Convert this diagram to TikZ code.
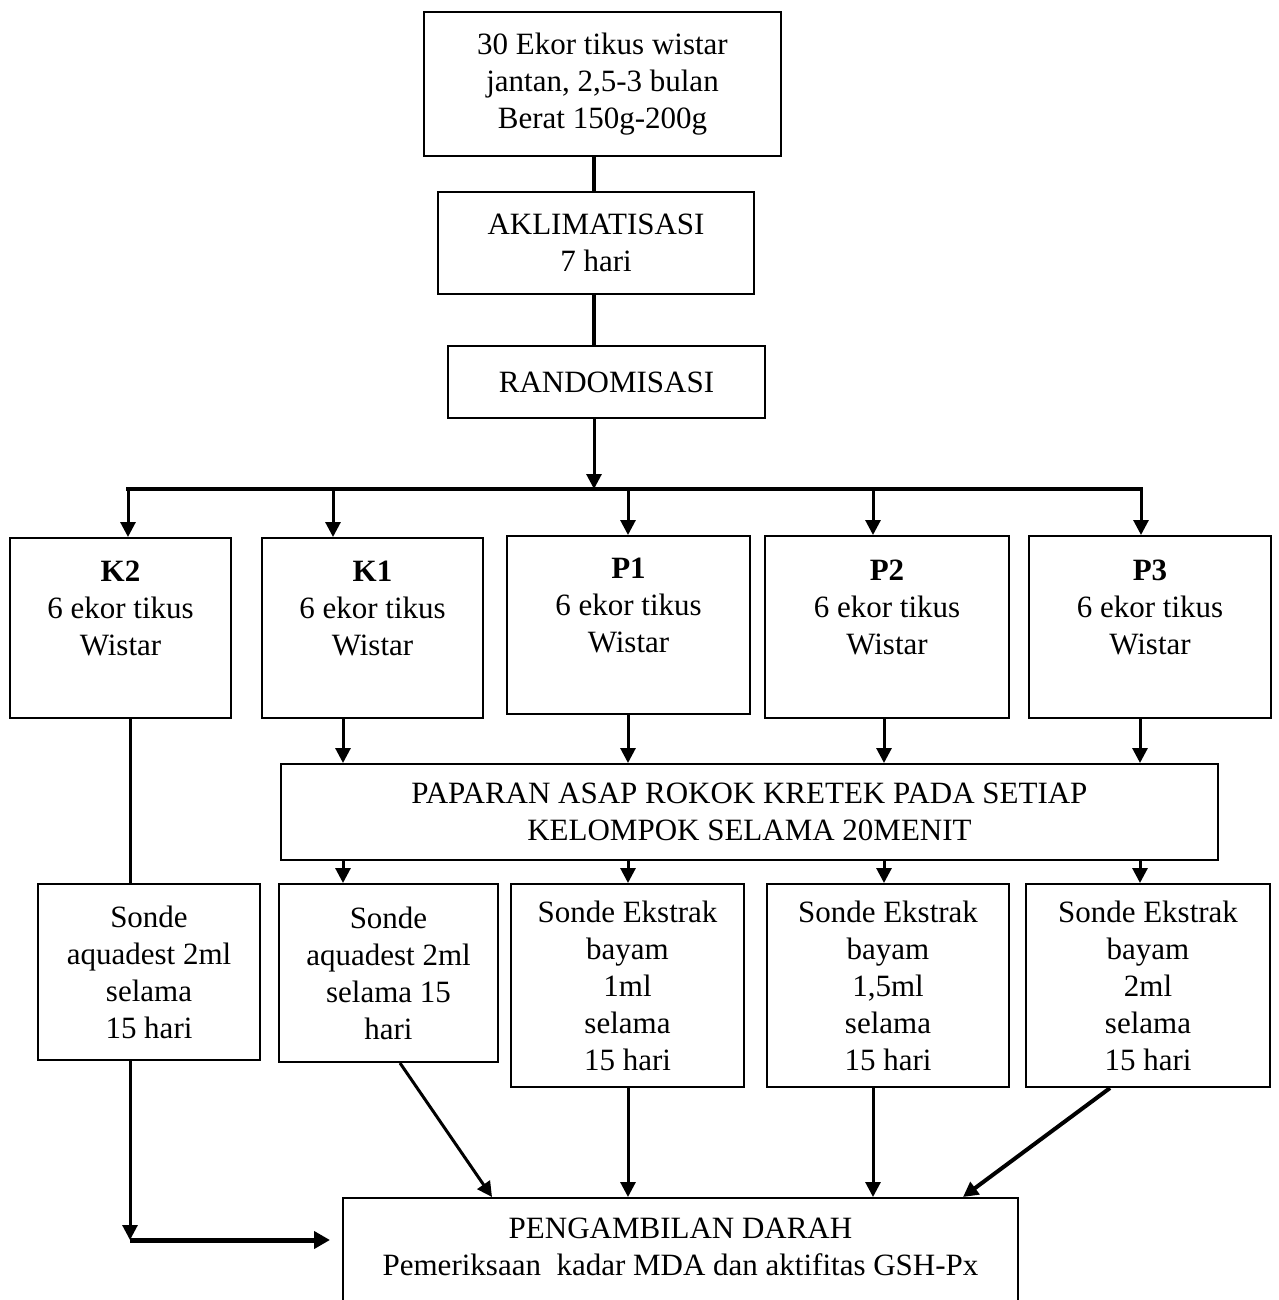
\documentclass[tikz,border=0pt]{standalone}
\usepackage{fontspec}
\setmainfont{Liberation Serif}
\usetikzlibrary{arrows.meta}
\begin{document}
\begin{tikzpicture}[x=1pt,y=-1pt,
  bx/.style={draw, line width=2pt, align=center, inner sep=0pt,
             font=\fontsize{31}{37}\selectfont},
  ln/.style={line width=3.5pt},
  ar/.style={line width=3pt, -{Triangle[length=15pt,width=15pt]}},
]
\useasboundingbox (0,0) rectangle (1278,1300);
\clip (0,0) rectangle (1278,1300);
\fill[white] (0,0) rectangle (1278,1300);

% boxes
\node[bx, minimum width=357pt, minimum height=144pt] (top) at (602.5,84)
  {30 Ekor tikus wistar\\jantan, 2,5-3 bulan\\Berat 150g-200g};
\node[bx, minimum width=316pt, minimum height=102pt] (akl) at (596,243)
  {AKLIMATISASI\\7 hari};
\node[bx, minimum width=317pt, minimum height=72pt] (rand) at (606.5,382)
  {RANDOMISASI};

\node[bx, minimum width=221pt, minimum height=180pt] (k2) at (120.5,628)
  {\textbf{K2}\\6 ekor tikus\\Wistar\\[2pt]\mbox{}};
\node[bx, minimum width=221pt, minimum height=180pt] (k1) at (372.5,628)
  {\textbf{K1}\\6 ekor tikus\\Wistar\\[2pt]\mbox{}};
\node[bx, minimum width=243pt, minimum height=178pt] (p1) at (628.5,625)
  {\textbf{P1}\\6 ekor tikus\\Wistar\\[2pt]\mbox{}};
\node[bx, minimum width=244pt, minimum height=182pt] (p2) at (887,627)
  {\textbf{P2}\\6 ekor tikus\\Wistar\\[2pt]\mbox{}};
\node[bx, minimum width=242pt, minimum height=182pt] (p3) at (1150,627)
  {\textbf{P3}\\6 ekor tikus\\Wistar\\[2pt]\mbox{}};

\node[bx, minimum width=937pt, minimum height=96pt] (pap) at (749.5,812)
  {PAPARAN ASAP ROKOK KRETEK PADA SETIAP\\KELOMPOK SELAMA 20MENIT};

\node[bx, minimum width=222pt, minimum height=176pt] (sk2) at (149,972)
  {Sonde\\aquadest 2ml\\selama\\15 hari};
\node[bx, minimum width=219pt, minimum height=178pt] (sk1) at (388.5,973)
  {Sonde\\aquadest 2ml\\selama 15\\hari};
\node[bx, minimum width=233pt, minimum height=203pt] (sp1) at (627.5,985.5)
  {Sonde Ekstrak\\bayam\\1ml\\selama\\15 hari};
\node[bx, minimum width=242pt, minimum height=203pt] (sp2) at (888,985.5)
  {Sonde Ekstrak\\bayam\\1,5ml\\selama\\15 hari};
\node[bx, minimum width=244pt, minimum height=203pt] (sp3) at (1148,985.5)
  {Sonde Ekstrak\\bayam\\2ml\\selama\\15 hari};

\node[bx, minimum width=675pt, minimum height=135pt] (bot) at (680.5,1265.5)
  {PENGAMBILAN DARAH\\Pemeriksaan\ \ kadar MDA dan aktifitas GSH-Px\\\mbox{}};

% helper x positions
\coordinate (bus) at (594,489);
\coordinate (bk2) at (128,489);
\coordinate (bk1) at (333,489);
\coordinate (bp1) at (628,489);
\coordinate (bp2) at (873,489);
\coordinate (bp3) at (1141,489);
\coordinate (c1) at (343,0);
\coordinate (c2) at (628,0);
\coordinate (c3) at (884,0);
\coordinate (c4) at (1140,0);
\coordinate (ck2) at (130,0);
\coordinate (cp2) at (873,0);
\coordinate (corner) at (130,1240);
\coordinate (kend) at (330,1240);

% top chain
\draw[ln] (top.south -| bus) -- (akl.north -| bus);
\draw[ln] (akl.south -| bus) -- (rand.north -| bus);
\draw[ar] (rand.south -| bus) -- (bus);

% bus
\draw[ln, line cap=rect] (bk2) -- (bp3);
\draw[ar] (bk2) -- (bk2 |- k2.north);
\draw[ar] (bk1) -- (bk1 |- k1.north);
\draw[ar] (bp1) -- (bp1 |- p1.north);
\draw[ar] (bp2) -- (bp2 |- p2.north);
\draw[ar] (bp3) -- (bp3 |- p3.north);

% to exposure box
\draw[ar] (k1.south -| c1) -- (pap.north -| c1);
\draw[ar] (p1.south -| c2) -- (pap.north -| c2);
\draw[ar] (p2.south -| c3) -- (pap.north -| c3);
\draw[ar] (p3.south -| c4) -- (pap.north -| c4);

% to sonde boxes
\draw[ar] (pap.south -| c1) -- (sk1.north -| c1);
\draw[ar] (pap.south -| c2) -- (sp1.north -| c2);
\draw[ar] (pap.south -| c3) -- (sp2.north -| c3);
\draw[ar] (pap.south -| c4) -- (sp3.north -| c4);

% K2 path
\draw[ln, line width=3pt] (k2.south -| ck2) -- (sk2.north -| ck2);
\draw[ar] (sk2.south -| ck2) -- (corner);
\draw[line width=5pt, -{Triangle[length=16pt,width=17pt]}] (corner) -- (kend);

% to bottom
\draw[ar] ([xshift=11.5pt]sk1.south) -- ([xshift=150pt]bot.north west);
\draw[ar] (sp1.south -| c2) -- (bot.north -| c2);
\draw[ar] (sp2.south -| cp2) -- (bot.north -| cp2);
\draw[ar, line width=4pt] ([xshift=-38pt]sp3.south) -- ([xshift=-56pt]bot.north east);
\end{tikzpicture}
\end{document}
